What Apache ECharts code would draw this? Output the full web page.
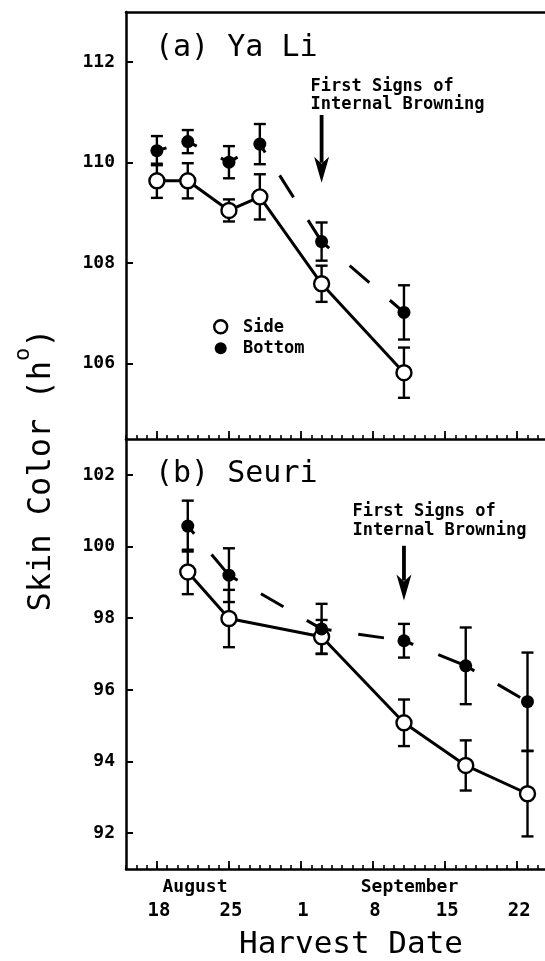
<!DOCTYPE html>
<html>
<head>
<meta charset="utf-8">
<script src="https://cdn.jsdelivr.net/npm/echarts@6/dist/echarts.min.js"></script>
<style>
html,body{margin:0;padding:0;background:#fff;}
#c{width:545px;height:961px;}
</style>
</head>
<body>
<div id="c"></div>
<script>
// Day numbers: 0 = August 18
const majorTicks = [0, 7, 14, 21, 28, 35];
const dateLabels = ['18', '25', '1', '8', '15', '22'];
const yTicksA = [106, 108, 110, 112];
const yTicksB = [92, 94, 96, 98, 100, 102];

// (a) Ya Li
const daysA = [0, 3, 7, 10, 16, 24];
const sideA = [109.64, 109.64, 109.05, 109.32, 107.59, 105.82];
const sideAErr = [0.34, 0.35, 0.22, 0.45, 0.36, 0.50];
const bottomA = [110.24, 110.42, 110.01, 110.37, 108.43, 107.02];
const bottomAErr = [0.29, 0.23, 0.32, 0.40, 0.38, 0.54];

// (b) Seuri
const daysB = [3, 7, 16, 24, 30, 36];
const sideB = [99.29, 97.99, 97.48, 95.08, 93.89, 93.10];
const sideBErr = [0.62, 0.80, 0.47, 0.65, 0.70, 1.19];
const bottomB = [100.57, 99.20, 97.70, 97.37, 96.67, 95.67];
const bottomBErr = [0.71, 0.75, 0.70, 0.47, 1.07, 1.37];

// arrows "First Signs of Internal Browning": [day, start value, tip value]
const arrowA = [[16, 110.95, 109.60]];
const arrowB = [[24, 100.02, 98.49]];

const X_MIN = -3, X_MAX = 37.7;
const minorTicks = [];
for (let d = -3; d <= 37; d++) minorTicks.push(d);

const MONO = '"DejaVu Sans Mono", monospace';

function pairs(xs, ys) { return xs.map((x, i) => [x, ys[i]]); }
function errData(xs, ys, es) { return xs.map((x, i) => [x, ys[i] - es[i], ys[i] + es[i]]); }

function errSeries(xs, ys, es, xi, yi) {
  return {
    type: 'custom', xAxisIndex: xi, yAxisIndex: yi, z: 2, silent: true,
    data: errData(xs, ys, es),
    encode: { x: 0, y: [1, 2] },
    renderItem: function (params, api) {
      const lo = api.coord([api.value(0), api.value(1)]);
      const hi = api.coord([api.value(0), api.value(2)]);
      const w = 6;
      const st = { stroke: '#000', lineWidth: 2.4 };
      return { type: 'group', children: [
        { type: 'line', shape: { x1: lo[0], y1: lo[1], x2: hi[0], y2: hi[1] }, style: st },
        { type: 'line', shape: { x1: lo[0] - w, y1: lo[1], x2: lo[0] + w, y2: lo[1] }, style: st },
        { type: 'line', shape: { x1: hi[0] - w, y1: hi[1], x2: hi[0] + w, y2: hi[1] }, style: st }
      ]};
    }
  };
}

function dashSeries(xs, ys, xi, yi) {
  return {
    type: 'custom', xAxisIndex: xi, yAxisIndex: yi, z: 3, silent: true,
    data: pairs(xs, ys),
    encode: { x: 0, y: 1 },
    renderItem: function (params, api) {
      const i = params.dataIndex;
      if (i === 0) return null;
      const p0 = api.coord([xs[i - 1], ys[i - 1]]);
      const p1 = api.coord([api.value(0), api.value(1)]);
      return { type: 'line', shape: { x1: p0[0], y1: p0[1], x2: p1[0], y2: p1[1] },
        style: { stroke: '#000', lineWidth: 3, lineDash: [26, 27], lineDashOffset: 16 } };
    }
  };
}

function arrowSeries(data, xi, yi) {
  return {
    type: 'custom', xAxisIndex: xi, yAxisIndex: yi, z: 4, silent: true,
    data: data, encode: { x: 0, y: [1, 2] },
    renderItem: function (params, api) {
      const a = api.coord([api.value(0), api.value(1)]);
      const t = api.coord([api.value(0), api.value(2)]);
      const hl = 26, hw = 7.5;
      return { type: 'group', children: [
        { type: 'line', shape: { x1: a[0], y1: a[1], x2: t[0], y2: t[1] - hl + 6 }, style: { stroke: '#000', lineWidth: 3.8 } },
        { type: 'polygon', shape: { points: [[t[0], t[1]], [t[0] - hw, t[1] - hl], [t[0], t[1] - hl + 7], [t[0] + hw, t[1] - hl]] }, style: { fill: '#000' } }
      ]};
    }
  };
}

function lineSeries(xs, ys, xi, yi) {
  return { type: 'line', xAxisIndex: xi, yAxisIndex: yi, z: 3, silent: true, showSymbol: false,
    data: pairs(xs, ys), lineStyle: { color: '#000', width: 3 } };
}
function openMarks(xs, ys, xi, yi) {
  return { type: 'scatter', xAxisIndex: xi, yAxisIndex: yi, z: 6, silent: true, symbol: 'circle', symbolSize: 15,
    data: pairs(xs, ys), itemStyle: { color: '#fff', borderColor: '#000', borderWidth: 2.4, opacity: 1 } };
}
function filledMarks(xs, ys, xi, yi) {
  return { type: 'scatter', xAxisIndex: xi, yAxisIndex: yi, z: 6, silent: true, symbol: 'circle', symbolSize: 13,
    data: pairs(xs, ys), itemStyle: { color: '#000', opacity: 1 } };
}

function minorAxis(gi) {
  return { type: 'value', gridIndex: gi, position: 'bottom', min: X_MIN, max: X_MAX,
    axisLine: { show: true, onZero: false, lineStyle: { color: '#000', width: 2.5 } },
    axisTick: { show: true, inside: true, length: 4, customValues: minorTicks, lineStyle: { color: '#000', width: 1.6 } },
    axisLabel: { show: false }, splitLine: { show: false } };
}
function majorAxis(gi, labels) {
  return { type: 'value', gridIndex: gi, position: 'bottom', min: X_MIN, max: X_MAX,
    axisLine: { show: false, onZero: false },
    axisTick: { show: true, inside: true, length: 8, customValues: majorTicks, lineStyle: { color: '#000', width: 1.8 } },
    axisLabel: labels ? { show: true, customValues: majorTicks, margin: 33,
      formatter: function (v) { const k = majorTicks.indexOf(v); return k >= 0 ? dateLabels[k] : ''; },
      fontFamily: MONO, fontWeight: 'bold', fontSize: 19, color: '#000', padding: [0, 0, 0, 4] } : { show: false },
    splitLine: { show: false } };
}
function yAx(gi, min, max, ticks) {
  return { type: 'value', gridIndex: gi, min: min, max: max,
    axisLine: { show: true, onZero: false, lineStyle: { color: '#000', width: 2.5 } },
    axisTick: { show: true, inside: true, length: 7, customValues: ticks, lineStyle: { color: '#000', width: 2 } },
    axisLabel: { show: true, customValues: ticks, margin: 11, fontFamily: MONO, fontWeight: 'bold', fontSize: 18, color: '#000' },
    splitLine: { show: false } };
}

const chart = echarts.init(document.getElementById('c'), null, { renderer: 'canvas' });
const txt = (x, y, text, size, bold, align) => ({ type: 'text', x: x, y: y, z: 10, silent: true,
  style: { text: text, fontFamily: MONO, fontSize: size, fontWeight: bold ? 'bold' : 'normal', fill: '#000', align: align || 'left', verticalAlign: 'middle' } });

chart.setOption({
  animation: false,
  backgroundColor: '#fff',
  grid: [
    { left: 126, top: 12, width: 419, height: 427, containLabel: false },
    { left: 126, top: 439, width: 419, height: 430, containLabel: false }
  ],
  xAxis: [
    minorAxis(0),
    majorAxis(0, false),
    { type: 'value', gridIndex: 0, position: 'top', min: X_MIN, max: X_MAX,
      axisLine: { show: true, onZero: false, lineStyle: { color: '#000', width: 2.5 } },
      axisTick: { show: false }, axisLabel: { show: false }, splitLine: { show: false } },
    minorAxis(1),
    majorAxis(1, true)
  ],
  yAxis: [
    yAx(0, 104.5, 113, yTicksA),
    yAx(1, 91, 103, yTicksB)
  ],
  series: [
    errSeries(daysA, sideA, sideAErr, 0, 0),
    errSeries(daysA, bottomA, bottomAErr, 0, 0),
    lineSeries(daysA, sideA, 0, 0),
    dashSeries(daysA, bottomA, 0, 0),
    openMarks(daysA, sideA, 0, 0),
    filledMarks(daysA, bottomA, 0, 0),
    arrowSeries(arrowA, 0, 0),
    errSeries(daysB, sideB, sideBErr, 3, 1),
    errSeries(daysB, bottomB, bottomBErr, 3, 1),
    lineSeries(daysB, sideB, 3, 1),
    dashSeries(daysB, bottomB, 3, 1),
    openMarks(daysB, sideB, 3, 1),
    filledMarks(daysB, bottomB, 3, 1),
    arrowSeries(arrowB, 3, 1)
  ],
  graphic: [
    txt(155, 48, '(a) Ya Li', 30, false),
    txt(155, 474, '(b) Seuri', 30, false),
    txt(310.5, 87, 'First Signs of', 17, true),
    txt(310.5, 104.5, 'Internal Browning', 17, true),
    txt(352.5, 512, 'First Signs of', 17, true),
    txt(352.5, 531, 'Internal Browning', 17, true),
    txt(195, 887, 'August', 18, true, 'center'),
    txt(409.5, 887, 'September', 18, true, 'center'),
    txt(351, 945, 'Harvest Date', 31, false, 'center'),
    { type: 'circle', z: 10, silent: true, shape: { cx: 220.7, cy: 326.7, r: 6.5 }, style: { fill: '#fff', stroke: '#000', lineWidth: 2.4 } },
    { type: 'circle', z: 10, silent: true, shape: { cx: 220.7, cy: 348.3, r: 6 }, style: { fill: '#000' } },
    txt(243, 327.5, 'Side', 17, true),
    txt(243, 349, 'Bottom', 17, true),
    { type: 'text', x: 42, y: 470, rotation: Math.PI / 2, z: 10, silent: true,
      style: { text: '{a|Skin Color (h}{s|o}{a|)}', align: 'center', verticalAlign: 'middle', fill: '#000',
        rich: {
          a: { fontFamily: MONO, fontSize: 32, lineHeight: 32, fill: '#000' },
          s: { fontFamily: MONO, fontSize: 22, lineHeight: 22, padding: [0, 0, 37, 0], fill: '#000' }
        } } }
  ]
});
</script>
</body>
</html>
